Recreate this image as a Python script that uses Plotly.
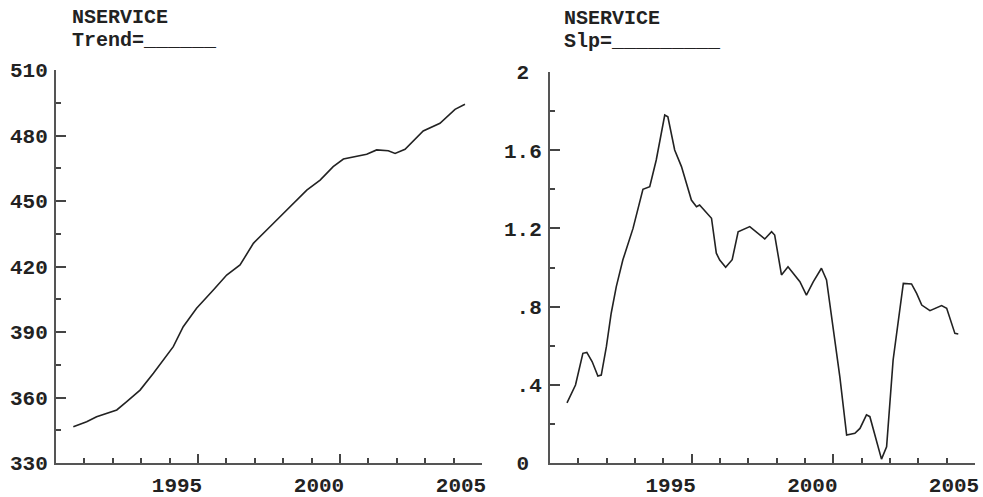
import plotly.graph_objects as go

# ---- data ----
trend_years = [1990.61, 1991.08, 1991.43, 1991.78, 1992.14, 1992.49, 1992.96, 1993.43,
               1994.13, 1994.48, 1994.95, 1995.54, 1996.01, 1996.48, 1996.95, 1997.65,
               1998.24, 1998.59, 1998.83, 1999.30, 1999.76, 2000.12, 2000.94, 2001.29,
               2001.70, 2001.94, 2002.29, 2002.93, 2003.52, 2004.05, 2004.40]
trend_values = [346.6, 348.9, 351.2, 352.8, 354.3, 358.1, 363.4, 371.1,
                383.3, 392.4, 400.9, 409.2, 416.1, 420.7, 430.6, 439.7,
                447.4, 452.0, 455.0, 459.6, 465.7, 469.2, 471.4, 473.4,
                473.0, 471.8, 473.7, 482.1, 485.6, 492.0, 494.3]

slope_years = [1990.60, 1990.90, 1991.16, 1991.30, 1991.49, 1991.69, 1991.81, 1991.99,
               1992.16, 1992.34, 1992.57, 1992.93, 1993.28, 1993.52, 1993.75, 1993.99,
               1994.05, 1994.16, 1994.40, 1994.64, 1994.99, 1995.17, 1995.28, 1995.70,
               1995.87, 1995.99, 1996.20, 1996.43, 1996.64, 1997.05, 1997.58, 1997.82,
               1997.93, 1998.17, 1998.40, 1998.82, 1999.05, 1999.29, 1999.58, 1999.76,
               1999.99, 2000.23, 2000.47, 2000.76, 2000.94, 2001.17, 2001.29, 2001.53,
               2001.70, 2001.88, 2002.11, 2002.47, 2002.76, 2002.94, 2003.12, 2003.41,
               2003.82, 2004.00, 2004.29, 2004.41]
slope_values = [0.308, 0.399, 0.561, 0.566, 0.518, 0.445, 0.450, 0.595,
                0.766, 0.902, 1.038, 1.200, 1.400, 1.413, 1.550, 1.720,
                1.780, 1.771, 1.601, 1.516, 1.345, 1.311, 1.320, 1.252,
                1.073, 1.038, 1.001, 1.040, 1.183, 1.209, 1.146, 1.183,
                1.166, 0.962, 1.004, 0.927, 0.859, 0.927, 0.996, 0.936,
                0.697, 0.441, 0.143, 0.152, 0.177, 0.246, 0.237, 0.109,
                0.020, 0.083, 0.527, 0.919, 0.916, 0.868, 0.808, 0.779,
                0.805, 0.791, 0.663, 0.660]

x_major = [1995, 2000, 2005]
x_major_text = ["1995", "2000", "2005"]
x_minor = [1991, 1992, 1993, 1994, 1996, 1997, 1998, 1999, 2001, 2002, 2003, 2004]

trend_ticks = [330, 360, 390, 420, 450, 480, 510]
trend_ticktext = ["330", "360", "390", "420", "450", "480", "510"]
trend_minor = [345, 375, 405, 435, 465, 495]

slope_ticks = [0, 0.4, 0.8, 1.2, 1.6, 2.0]
slope_ticktext = ["0\u00a0", ".4", ".8", "1.2", "1.6", "2\u00a0"]
slope_minor = [0.2, 0.6, 1.0, 1.4, 1.8]

W, H = 983, 497
FONT = "Liberation Mono"
AXC = "#555555"
TKC = "#444444"
tickfont = dict(family=FONT, size=21, color="#222222", weight="bold")
titlefont = dict(family=FONT, size=20, color="#222222", weight="bold")

LEFT_X = [56 / W, 482 / W]
RIGHT_X = [550 / W, 975 / W]
LEFT_Y = [(H - 463) / H, (H - 70) / H]
RIGHT_Y = [(H - 463) / H, (H - 72) / H]

fig = go.Figure()
fig.add_trace(go.Scatter(x=trend_years, y=trend_values, mode="lines",
                         line=dict(color="#222222", width=1.6), xaxis="x", yaxis="y",
                         showlegend=False, hoverinfo="skip"))
fig.add_trace(go.Scatter(x=slope_years, y=slope_values, mode="lines",
                         line=dict(color="#222222", width=1.6), xaxis="x2", yaxis="y2",
                         showlegend=False, hoverinfo="skip"))


def xaxis(domain, anchor):
    return dict(domain=domain, anchor=anchor, range=[1990, 2005], showgrid=False,
                zeroline=False, showline=True, linecolor=AXC, linewidth=2,
                automargin=False,
                tickmode="array", tickvals=x_major, ticktext=x_major_text,
                ticks="inside", ticklen=9, tickwidth=2, tickcolor=TKC,
                tickfont=tickfont, ticklabelshift=-21, ticklabelstandoff=2,
                minor=dict(tickmode="array", tickvals=x_minor, ticks="inside",
                           ticklen=5, tickwidth=2, tickcolor=TKC, showgrid=False))


def yaxis(domain, anchor, rng, tv, tt, mv):
    return dict(domain=domain, anchor=anchor, range=rng, showgrid=False,
                zeroline=False, showline=True, linecolor=AXC, linewidth=2,
                automargin=False,
                tickmode="array", tickvals=tv, ticktext=tt,
                ticks="inside", ticklen=10, tickwidth=2, tickcolor=TKC,
                tickfont=tickfont, ticklabelstandoff=2,
                minor=dict(tickmode="array", tickvals=mv, ticks="inside",
                           ticklen=5, tickwidth=2, tickcolor=TKC, showgrid=False))


fig.update_layout(
    width=W, height=H, margin=dict(l=0, r=0, t=0, b=0, autoexpand=False),
    paper_bgcolor="white", plot_bgcolor="white",
    xaxis=xaxis(LEFT_X, "y"),
    yaxis=yaxis(LEFT_Y, "x", [330, 510], trend_ticks, trend_ticktext, trend_minor),
    xaxis2=xaxis(RIGHT_X, "y2"),
    yaxis2=yaxis(RIGHT_Y, "x2", [0, 2], slope_ticks, slope_ticktext, slope_minor),
)

# axis lines also drawn as unclipped paper shapes along each plot's left and bottom edge
for xd, yd in ((LEFT_X, LEFT_Y), (RIGHT_X, RIGHT_Y)):
    xb = xd[0] - 1 / W
    yb = yd[0] - 1 / H
    fig.add_shape(type="line", xref="paper", yref="paper", x0=xb, y0=yb, x1=xd[1], y1=yb,
                  layer="above", line=dict(color=AXC, width=2))
    fig.add_shape(type="line", xref="paper", yref="paper", x0=xb, y0=yb, x1=xb, y1=yd[1],
                  layer="above", line=dict(color=AXC, width=2))


def label(text, px, py):
    fig.add_annotation(text=text, x=px / W, y=1 - py / H, xref="paper", yref="paper",
                       xanchor="left", yanchor="middle", showarrow=False,
                       font=titlefont, borderpad=0)


label("NSERVICE", 71, 17.3)
label("Trend=______", 71, 40.5)
label("NSERVICE", 563, 18.3)
label("Slp=_________", 563, 41.5)

fig.write_html("out.html")
